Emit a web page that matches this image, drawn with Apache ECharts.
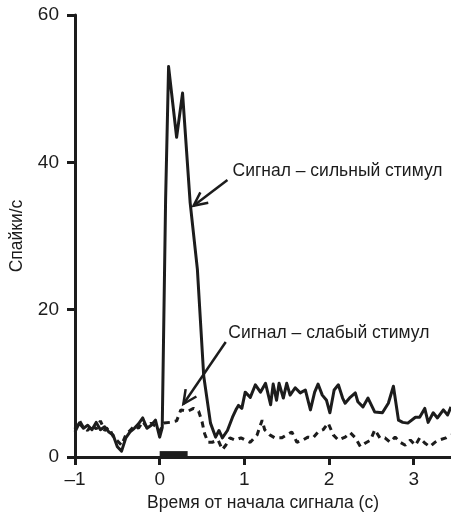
<!DOCTYPE html>
<html><head><meta charset="utf-8">
<script src="https://cdn.jsdelivr.net/npm/echarts@6/dist/echarts.min.js"></script>
<style>html,body{margin:0;padding:0;background:#fff}#c{width:451px;height:519px}</style>
</head><body><div id="c"></div>
<script>
// Strong-stimulus response (solid line): time (s) and spikes/s
const strongT = [-1.00,-0.95,-0.90,-0.85,-0.80,-0.75,-0.70,-0.65,-0.60,-0.55,-0.50,-0.45,-0.40,-0.35,-0.30,-0.25,-0.20,-0.15,-0.10,-0.05,
  0.00,0.03,0.07,0.105,0.20,0.27,0.36,0.445,0.52,0.60,0.66,0.70,0.74,0.80,0.86,0.90,0.93,0.97,
  1.01,1.07,1.13,1.19,1.25,1.31,1.34,1.38,1.41,1.46,1.50,1.54,1.60,1.66,1.72,1.78,1.83,1.87,1.92,1.97,
  2.01,2.06,2.11,2.16,2.19,2.25,2.31,2.34,2.40,2.46,2.54,2.63,2.70,2.76,2.82,2.87,2.93,
  3.02,3.07,3.13,3.17,3.23,3.28,3.35,3.40,3.44];
const strongV = [3.4,4.6,3.9,4.3,3.7,4.7,3.7,4.1,3.4,3.0,1.4,0.8,2.6,3.4,3.9,4.5,5.3,3.9,4.3,5.0,
  2.7,4.0,35,53,43.4,49.4,34.5,25.5,11,4.6,2.7,3.6,2.6,3.6,5.4,6.4,7.0,6.6,
  8.8,8.1,9.8,8.8,10.0,7.1,9.9,7.7,10.0,8.0,10.0,8.4,9.4,8.7,9.1,6.4,8.8,9.9,8.4,7.7,
  6.0,9.1,9.8,8.0,7.3,8.1,8.7,7.5,6.8,8.0,6.1,6.0,7.3,9.6,5.0,4.7,4.6,
  5.4,5.4,6.6,4.7,6.0,5.3,6.4,5.7,6.8];
// Weak-stimulus response (dashed line)
const weakT = [-1.00,-0.95,-0.90,-0.85,-0.80,-0.75,-0.70,-0.65,-0.60,-0.55,-0.50,-0.45,-0.40,-0.35,-0.30,-0.25,-0.20,-0.15,-0.10,-0.05,
  0.00,0.05,0.12,0.20,0.25,0.33,0.40,0.46,0.50,0.53,0.57,0.62,0.69,0.74,0.78,0.83,0.89,0.96,
  1.01,1.07,1.15,1.21,1.24,1.30,1.36,1.44,1.50,1.56,1.62,1.69,1.75,1.81,1.87,1.93,1.99,
  2.05,2.11,2.19,2.25,2.31,2.37,2.43,2.49,2.54,2.60,2.66,2.72,2.78,2.84,2.90,2.96,
  3.02,3.07,3.13,3.19,3.25,3.30,3.38,3.44];
const weakV = [3.8,5.0,4.0,3.6,4.4,3.8,4.9,3.6,4.0,2.8,2.2,1.6,3.0,3.6,4.2,3.9,4.8,4.0,4.6,4.2,
  3.5,4.6,4.7,4.9,6.4,6.2,6.6,6.2,4.8,3.2,2.0,2.0,2.3,1.0,1.6,2.6,2.3,2.6,
  2.3,2.0,3.0,5.0,3.7,3.0,2.6,2.6,3.0,3.4,2.0,2.3,2.7,2.6,3.4,3.7,4.6,
  3.0,2.3,2.7,3.3,2.6,1.4,1.9,2.3,3.7,2.6,2.6,2.0,2.7,2.0,1.6,2.3,
  1.6,2.6,1.9,1.4,2.0,2.3,2.6,3.0];
const xTicks = [-1,0,1,2,3];
const yTicks = [0,20,40,60];
const xTitle = 'Время от начала сигнала (с)';
const yTitle = 'Спайки/с';
const strongLabel = 'Сигнал – сильный стимул';
const weakLabel = 'Сигнал – слабый стимул';
const stimulus = [0, 0.33];

// annotation placement (data coordinates)
const strongNote = {text: strongLabel, at: [0.86, 38.8], from: [0.80, 37.6], to: [0.40, 34.1]};
const weakNote = {text: weakLabel, at: [0.81, 16.8], from: [0.78, 15.6], to: [0.28, 7.2]};

const FONT = '"Liberation Sans", Arial, sans-serif';
const INK = '#1c1c1c';
const chart = echarts.init(document.getElementById('c'), null, {renderer: 'canvas'});
const axisCommon = {
  axisLine: {show: true, onZero: false, lineStyle: {color: INK, width: 3}},
  splitLine: {show: false}
};
chart.setOption({
  animation: false,
  grid: {left: 75, right: 0, top: 15, bottom: 62, outerBoundsMode: 'none', containLabel: false},
  xAxis: Object.assign({
    type: 'value', min: -1, max: 3.44, interval: 1,
    name: xTitle, nameLocation: 'middle', nameGap: 34,
    nameTextStyle: {fontFamily: FONT, fontSize: 17.5, color: INK},
    axisTick: {show: true, length: 8, customValues: xTicks, lineStyle: {color: INK, width: 3}},
    axisLabel: {customValues: xTicks, margin: 13, fontSize: 19, fontFamily: FONT, color: INK,
      formatter: v => String(v).replace('-', '–')}
  }, axisCommon),
  yAxis: Object.assign({
    type: 'value', min: 0, max: 60, interval: 20,
    name: yTitle, nameLocation: 'middle', nameGap: 49,
    nameTextStyle: {fontFamily: FONT, fontSize: 17.5, color: INK},
    axisTick: {show: true, length: 8, customValues: yTicks, lineStyle: {color: INK, width: 3}},
    axisLabel: {customValues: yTicks, margin: 16, fontSize: 19, fontFamily: FONT, color: INK}
  }, axisCommon),
  series: [
    {type: 'line', data: strongT.map((t, i) => [t, strongV[i]]), symbol: 'none',
      lineStyle: {color: INK, width: 3, join: 'round'},
      markArea: {silent: true, itemStyle: {color: INK}, data: [[{xAxis: stimulus[0], yAxis: 0}, {xAxis: stimulus[1], yAxis: 0.8}]]}},
    {type: 'line', data: weakT.map((t, i) => [t, weakV[i]]), symbol: 'none',
      lineStyle: {color: INK, width: 3, type: [6, 5]}}
  ]
});

function px(p) { return chart.convertToPixel({gridIndex: 0}, p); }
function arrowEls(note) {
  const a = px(note.from), b = px(note.to);
  const ang = Math.atan2(a[1] - b[1], a[0] - b[0]);
  const L = 15, spread = 0.45;
  const h1 = [b[0] + L * Math.cos(ang + spread), b[1] + L * Math.sin(ang + spread)];
  const h2 = [b[0] + L * Math.cos(ang - spread), b[1] + L * Math.sin(ang - spread)];
  const t = px(note.at);
  return [
    {type: 'line', shape: {x1: a[0], y1: a[1], x2: b[0], y2: b[1]}, style: {stroke: INK, lineWidth: 2.5}},
    {type: 'polyline', shape: {points: [h1, b, h2]}, style: {stroke: INK, lineWidth: 2.5, fill: null}},
    {type: 'text', x: t[0], y: t[1], style: {text: note.text, font: '17.5px ' + FONT, fill: INK, verticalAlign: 'middle', align: 'left'}}
  ];
}
chart.setOption({graphic: {elements: arrowEls(strongNote).concat(arrowEls(weakNote))}});
</script>
</body></html>
